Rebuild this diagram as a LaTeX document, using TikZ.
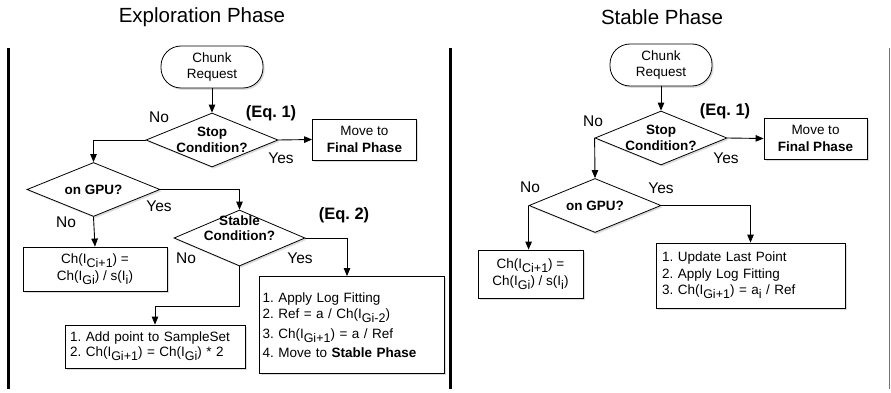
\documentclass[tikz,border=0pt]{standalone}
\usepackage{fontspec}
\setmainfont{Liberation Sans}
\usetikzlibrary{arrows.meta,shapes.geometric,shadows}
% lowered, slightly smaller subscript as used in the formulas
\newcommand{\lowsub}[1]{\raisebox{-0.55ex}{\fontsize{12.5}{12.5}\selectfont #1}}
\frenchspacing
\begin{document}
\begin{tikzpicture}[x=1pt,y=-1pt,
  txt/.style={font=\fontsize{13.5}{16.5}\selectfont},
  shade/.style={drop shadow={opacity=0.28,shadow xshift=1.6pt,shadow yshift=-1.8pt}},
  procbox/.style={txt,draw,line width=0.8pt,fill=white,shade,inner sep=0pt},
  term/.style={procbox,rounded corners=20pt,minimum width=102pt,minimum height=42pt,align=center},
  decide/.style={draw,diamond,line width=0.8pt,fill=white,shade,inner sep=0pt,
                 minimum width=132pt,minimum height=54pt},
  dtext/.style={font=\bfseries\fontsize{13.5}{15.5}\selectfont,align=center,inner sep=0pt},
  lbl/.style={font=\fontsize{15.5}{18}\selectfont,inner sep=0pt},
  eqlbl/.style={font=\bfseries\fontsize{16.5}{19}\selectfont,inner sep=0pt},
  title/.style={font=\fontsize{20.5}{24}\selectfont,inner sep=0pt},
  flow/.style={-{Triangle[length=8pt,width=6.5pt]},line width=0.9pt},
  edge/.style={line width=3pt,black},
  faint/.style={line width=0.8pt,black!55}]
\useasboundingbox (0,0) rectangle (891,393);

% panel borders
\draw[edge]  (8,48)   -- (8,389);
\draw[edge]  (450,48) -- (450,389);
\draw[faint] (889,48) -- (889,389);

% ---------------- Exploration phase ----------------
\node[title] (t1) at (202,17) {Exploration Phase};

\node[term] (cr1) at (212,67) {Chunk\\Request};
\node[decide,label={[dtext]center:Stop\\Condition?}] (stop1) at (212,140) {};
\node[procbox,align=center,minimum width=104pt,minimum height=41pt] (fin1) at (364.5,139.5)
  {Move to\\\textbf{Final Phase}};
\node[decide,minimum width=133pt,label={[dtext]center:on GPU?}] (gpu1) at (93.5,189.5) {};
\node[procbox,align=center,minimum width=144pt,minimum height=44pt] (chc1) at (95,269)
  {Ch(I\lowsub{Ci+1}) =\\Ch(I\lowsub{Gi}) / s(I\lowsub{i})};
\node[decide,minimum width=131pt,minimum height=56pt,
      label={[dtext,yshift=10pt]center:Stable\\Condition?}] (stab1) at (239.5,238) {};
\node[procbox,align=left,text width=178pt,inner xsep=3.5pt,minimum height=97pt] (log1) at (351.5,325)
  {1. Apply Log Fitting\\
   2. Ref = a / Ch(I\lowsub{Gi-2})\\[3pt]
   3. Ch(I\lowsub{Gi+1}) = a / Ref\\[3pt]
   4. Move to \textbf{Stable Phase}};
\node[procbox,align=left,text width=170pt,inner xsep=5pt,minimum height=43pt,
      font=\fontsize{13.5}{15}\selectfont] (add1) at (155,346.5)
  {1. Add point to SampleSet\\
   2. Ch(I\lowsub{Gi+1}) = Ch(I\lowsub{Gi}) * 2};

\coordinate (bend1) at (239.5,306);

\draw[flow] (cr1) -- (stop1.north);
\draw[flow] (stop1.east) -- (fin1.west);
\draw[flow] (stop1.west) -| (gpu1.north);
\draw[flow] (gpu1.east) -| (stab1.north);
\draw[flow] (gpu1.south) -- (chc1.north);
\draw[flow] (stab1.east) -| ([xshift=-4.5pt]log1.north);
\draw[flow] (stab1.south) -- (bend1) -| (add1.north);

\node[lbl] (n1) at (159,117) {No};
\node[eqlbl] (e1) at (271,113) {(Eq. 1)};
\node[lbl] (y1) at (281,158) {Yes};
\node[lbl] (y2) at (159,206) {Yes};
\node[lbl] (n2) at (66,222) {No};
\node[eqlbl] (e2) at (344,215) {(Eq. 2)};
\node[lbl] (n3) at (186,258) {No};
\node[lbl] (y3) at (300,258) {Yes};

% ---------------- Stable phase ----------------
\node[title] (t2) at (662,17) {Stable Phase};

\node[term] (cr2) at (661,65) {Chunk\\Request};
\node[decide,label={[dtext]center:Stop\\Condition?}] (stop2) at (661,138) {};
\node[procbox,align=center,minimum width=103pt,minimum height=41pt] (fin2) at (815.5,138.5)
  {Move to\\\textbf{Final Phase}};
\node[decide,label={[dtext]center:on GPU?}] (gpu2) at (595,205.5) {};
\node[procbox,align=center,minimum width=105pt,minimum height=48pt] (chc2) at (530.5,274)
  {Ch(I\lowsub{Ci+1}) =\\Ch(I\lowsub{Gi}) / s(I\lowsub{i})};
\node[procbox,align=left,text width=177pt,inner xsep=6pt,minimum height=65pt] (upd2) at (750.5,275.5)
  {1. Update Last Point\\
   2. Apply Log Fitting\\
   3. Ch(I\lowsub{Gi+1}) = a\lowsub{i} / Ref};

\draw[flow] (cr2) -- (stop2.north);
\draw[flow] (stop2.east) -- (fin2.west);
\draw[flow] (stop2.west) -- (gpu2.north);
\draw[flow] (gpu2.west) -- (gpu2.west |- chc2.north);
\draw[flow] (gpu2.east) -| (upd2.north);

\node[lbl] (n4) at (593,121) {No};
\node[eqlbl] (e3) at (725,111) {(Eq. 1)};
\node[lbl] (y4) at (726,158) {Yes};
\node[lbl] (n5) at (530,187) {No};
\node[lbl] (y5) at (661,188) {Yes};
\end{tikzpicture}
\end{document}
